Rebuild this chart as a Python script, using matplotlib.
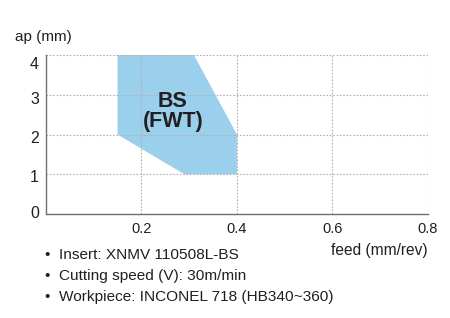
import matplotlib
matplotlib.use("Agg")
import matplotlib.pyplot as plt
from matplotlib.patches import Polygon
from matplotlib.transforms import ScaledTranslation

# working range polygon (feed, ap)
feed_pts = [0.15, 0.31, 0.40, 0.40, 0.29, 0.15]
ap_pts = [4.0, 4.0, 2.0, 1.0, 1.0, 2.0]
x_ticks = [0.2, 0.4, 0.6, 0.8]
x_labels = ["0.2", "0.4", "0.6", "0.8"]
y_ticks = [0, 1, 2, 3, 4]
region_label = "BS\n(FWT)"
notes = ["Insert: XNMV 110508L-BS",
         "Cutting speed (V): 30m/min",
         "Workpiece: INCONEL 718 (HB340~360)"]

plt.rcParams['font.family'] = ['Liberation Sans', 'DejaVu Sans']
TXT = "#231f20"

fig = plt.figure(figsize=(4.5, 3.18), dpi=100)
ax = fig.add_axes([0.102, 0.327, 0.849, 0.500])

ax.add_patch(Polygon(list(zip(feed_pts, ap_pts)), closed=True,
                     facecolor="#9bd0ec", edgecolor="none", zorder=1))
ax.text(0.266, 2.58, region_label, ha="center", va="center", fontsize=15.5,
        fontweight="bold", color=TXT, linespacing=0.95)

ax.set_xlim(0, 0.8)
ax.set_ylim(0, 4)
ax.set_xticks(x_ticks)
ax.set_xticklabels(x_labels)
ax.set_yticks(y_ticks)
ax.tick_params(axis="both", length=0, colors=TXT)
ax.tick_params(axis="x", labelsize=10.5, pad=6)
ax.tick_params(axis="y", labelsize=11.5, pad=5)
ax.grid(True, linestyle=(0, (1.5, 1.5)), color="#b0b0b0", linewidth=0.8)
for s in ("top", "right"):
    ax.spines[s].set_visible(False)
for s in ("left", "bottom"):
    ax.spines[s].set_color("#707070")
    ax.spines[s].set_linewidth(1.0)

# y labels in the original sit a little off their gridlines
shifts_px = [2, -2, -2, -3, -8]
for lab, d in zip(ax.get_yticklabels(), shifts_px):
    lab.set_transform(lab.get_transform() + ScaledTranslation(0, d / 100, fig.dpi_scale_trans))

fig.text(0.033, 0.884, "ap (mm)", fontsize=11, color=TXT, va="center")
fig.text(0.951, 0.211, "feed (mm/rev)", fontsize=11.2, color=TXT,
         va="center", ha="right")
for i, line in enumerate(notes):
    y = 0.198 - i * 0.066
    fig.text(0.098, y, "\u2022", fontsize=11, color=TXT, va="center")
    fig.text(0.131, y, line, fontsize=11.1, color=TXT, va="center")

fig.savefig("out.png", dpi=100)
